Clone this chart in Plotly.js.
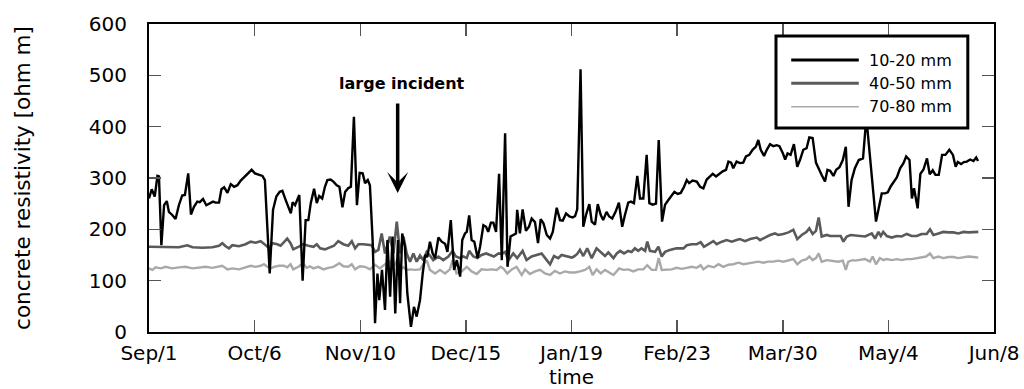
<!DOCTYPE html>
<html>
<head>
<meta charset="utf-8">
<script src="https://cdn.plot.ly/plotly-3.0.1.min.js"></script>
<style>html,body{margin:0;padding:0;background:#fff}#chart{width:1024px;height:389px}</style>
</head>
<body>
<div id="chart"></div>
<script>
// ---- data (day offsets since Sep 1, values in ohm m) ----
const seriesNames = ['10-20 mm', '40-50 mm', '70-80 mm'];
const tickDays = [0, 35, 70, 105, 140, 175, 210, 245, 280];
const tickLabels = ['Sep/1', 'Oct/6', 'Nov/10', 'Dec/15', 'Jan/19', 'Feb/23', 'Mar/30', 'May/4', 'Jun/8'];
const yTicks = [0, 100, 200, 300, 400, 500, 600];

const shallowDays = [
  0,0.9,1.9,2.8,3.3,4.1,5.0,5.9,6.6,7.7,8.8,9.9,11.0,11.9,13.0,13.9,14.9,16.0,16.8,17.9,19.0,20.1,21.2,22.1,23.2,24.0,24.9,26.0,27.1,28.2,29.3,30.4,32.0,33.1,34.0,35.1,36.4,37.6,38.4,39.2,40.0,41.1,42.2,43.3,44.2,45.3,46.4,47.0,
  47.6,48.4,49.1,49.8,50.9,51.9,52.8,53.6,54.7,55.6,56.4,57.4,58.3,59.1,60.2,61.1,62.2,63.1,64.1,65.0,66.0,66.9,67.9,68.9,69.8,70.8,71.6,72.5,73.2,74.1,74.9,75.7,76.3,77.2,78.2,79.0,79.9,80.7,81.6,82.5,83.2,83.9,84.8,85.6,86.8,87.8,88.7,89.8,90.7,91.5,92.2,
  93.1,94.0,94.8,95.9,97.0,98.1,98.9,100.0,101.1,102.0,103.1,103.8,104.7,105.3,106.1,106.9,107.8,108.9,109.7,110.8,111.7,112.4,113.3,114.1,115.0,116.0,116.9,118.0,118.8,119.8,120.7,121.6,122.0,122.9,123.8,124.9,125.9,126.8,127.9,128.9,129.8,130.7,131.8,132.9,133.8,135.1,136.2,137.1,138.2,139.3,
  140.4,141.2,141.9,143.0,143.9,144.8,145.9,146.7,147.8,148.7,149.7,150.5,151.6,152.5,153.5,154.6,155.7,156.8,157.7,158.8,159.7,160.7,161.8,162.7,163.8,164.9,165.8,166.9,168.0,168.9,170.0,171.0,172.1,173.0,174.1,175.2,176.2,177.3,178.2,179.0,180.1,181.5,182.6,183.7,184.8,
  185.9,186.8,187.9,189.0,190.1,191.2,192.0,192.9,193.6,194.7,195.8,196.9,197.8,198.9,200.0,201.1,201.9,202.7,203.8,204.7,205.8,206.9,208.0,208.9,210.0,210.8,211.6,212.6,213.7,214.8,215.7,216.8,217.9,218.8,219.9,221.0,222.0,222.9,224.0,224.8,225.7,226.8,227.7,228.8,229.9,230.9,231.8,232.8,
  233.9,235.2,236.6,237.7,240.9,241.9,242.8,243.9,244.8,245.8,246.7,247.8,248.9,250.0,250.9,252.0,252.8,253.5,254.7,255.6,256.6,257.8,258.7,259.7,260.6,261.7,262.8,263.9,265.2,266.4,267.3,268.0,269.1,270.0,271.0,272.1,273.2,274.1,274.7
];
const shallowVals = [
  260,278,264,304,303,169,247,255,234,228,220,247,266,267,309,229,244,254,253,259,247,251,254,252,252,278,282,271,288,283,286,295,305,312,316,309,307,304,296,205,114,238,264,273,275,257,241,231,
  253,247,257,267,100,218,218,251,279,251,265,260,283,296,297,293,286,283,243,273,280,283,419,247,310,309,290,296,286,179,17,114,62,121,43,179,69,186,36,179,56,192,166,75,10,49,30,62,114,150,146,
  176,153,144,184,176,172,156,218,121,140,108,179,192,195,227,179,176,144,166,208,205,195,213,213,195,308,140,387,127,186,189,192,238,192,239,197,205,221,214,173,220,212,189,182,195,242,218,217,231,225,
  223,226,239,512,205,228,249,215,209,249,228,218,234,225,221,234,252,205,228,252,254,251,304,260,260,345,251,248,250,374,215,248,257,265,273,269,271,283,296,290,295,293,283,280,297,
  303,308,303,309,313,316,332,330,319,332,329,330,342,345,355,361,374,355,343,355,366,362,364,362,349,336,348,345,366,322,335,355,358,379,378,330,319,306,293,316,314,304,316,321,335,361,244,296,
  319,335,338,418,215,244,270,270,272,284,292,301,319,329,342,335,260,280,241,308,316,338,307,315,306,306,345,345,355,345,322,331,327,331,332,336,333,340,333
];

const middleDays = [
  0,4.4,6.6,9.9,12.7,14.4,17.7,21.0,23.2,24.3,25.4,26.5,27.6,29.8,32.0,33.7,35.3,37.0,38.7,39.8,40.9,42.5,43.6,44.7,45.8,46.9,
  47.8,49.5,51.1,52.8,54.5,55.6,56.7,58.3,59.8,61.3,62.7,64.4,66.0,67.2,68.3,69.4,71.0,72.7,73.8,74.9,76.0,77.1,78.2,79.8,81.0,82.1,83.2,84.3,85.4,86.5,87.6,88.7,89.8,90.9,92.0,93.1,
  94.2,95.9,97.5,99.2,100.6,101.7,103.0,104.2,105.3,106.1,107.5,108.8,110.2,111.7,113.0,114.3,115.8,116.9,118.0,119.1,120.7,122.0,123.8,125.1,126.8,128.5,130.1,131.8,132.9,134.2,135.6,136.7,138.4,140.1,
  140.8,141.9,142.8,143.9,145.2,146.7,148.3,149.7,151.1,152.2,153.9,155.0,156.1,157.4,158.8,159.9,161.0,162.1,163.2,164.4,165.1,166.0,167.7,168.8,169.9,171.0,172.6,174.8,177.1,178.2,179.8,181.5,182.8,183.9,185.3,187.0,
  188.1,189.8,191.4,193.1,194.7,195.8,197.5,199.2,201.4,202.5,204.1,205.8,207.4,208.5,210.2,211.9,213.5,214.8,216.3,217.9,218.8,219.9,221.0,221.9,222.9,224.6,225.7,227.3,229.2,230.1,231.2,232.5,
  233.9,235.6,237.3,239.5,240.6,241.7,242.5,243.3,244.5,246.1,247.8,249.4,251.1,252.7,254.4,256.0,257.7,258.8,259.9,261.6,263.2,264.9,266.5,268.2,269.9,271.5,273.2,274.8
];
const middleVals = [
  166,166,165,165,169,165,164,165,168,173,167,163,169,167,171,176,174,177,169,163,173,171,168,176,182,173,
  161,166,171,168,166,171,163,161,165,168,177,171,168,177,163,171,171,169,169,156,160,192,153,186,153,215,153,186,153,137,153,137,149,140,156,149,
  140,147,140,147,158,147,144,147,144,158,147,144,150,153,150,147,153,152,156,140,153,144,158,140,147,150,153,140,132,148,144,150,147,145,
  147,152,160,148,163,144,163,156,148,155,144,153,158,153,158,156,163,158,163,158,176,158,156,166,147,156,160,163,163,169,171,171,175,166,171,177,
  171,176,179,176,179,181,177,181,184,179,184,189,192,189,191,194,199,181,189,195,202,191,197,223,186,189,187,187,187,176,186,189,
  188,186,186,192,182,195,187,195,187,184,187,186,191,187,187,191,191,200,189,192,195,194,194,192,195,194,195,195
];

const deepDays = [
  0,1.1,2.2,3.9,5.5,7.7,9.9,12.1,14.4,16.6,18.8,21.0,23.2,24.3,26.0,27.6,29.8,32.0,33.7,35.3,37.0,38.1,39.2,40.3,41.4,43.1,44.7,45.8,46.9,
  47.8,49.5,51.1,52.2,53.3,54.5,56.1,57.8,59.4,61.1,63.1,64.4,66.0,67.2,68.3,69.9,71.6,73.2,74.9,76.5,78.2,79.9,81.0,82.1,83.2,84.3,85.4,86.7,88.1,89.8,90.9,92.0,93.1,
  94.8,96.4,98.1,99.7,100.6,101.9,103.6,105.3,106.9,108.6,110.2,111.9,113.5,115.2,116.5,117.4,118.7,120.2,121.8,123.5,124.6,126.2,127.9,129.6,131.2,132.9,134.5,136.2,137.8,139.5,
  141.2,142.8,144.5,145.9,147.0,148.3,149.7,151.1,152.5,153.9,155.8,157.2,158.8,160.5,162.1,163.8,165.1,166.6,168.0,168.9,169.9,171.5,173.2,174.8,176.5,178.2,179.8,181.5,182.8,183.7,185.3,
  187.2,188.7,190.3,192.0,193.6,195.3,197.0,198.6,200.3,201.9,203.6,205.2,206.9,208.5,210.2,211.9,213.5,214.8,216.3,217.9,218.8,219.9,221.0,221.9,222.9,224.6,226.2,228.4,229.9,230.9,231.7,233.2,
  234.0,235.6,237.3,238.9,239.8,240.9,242.2,243.3,244.4,246.1,247.8,249.4,251.1,252.7,254.4,256.0,257.5,258.8,259.9,261.6,263.2,264.9,266.5,268.2,269.9,271.5,273.2,274.8
];
const deepVals = [
  124,121,126,124,127,124,126,127,124,126,127,125,127,129,122,124,122,126,129,127,129,132,127,124,127,129,129,126,132,
  122,127,134,125,128,124,127,122,125,127,134,128,127,132,122,128,127,122,131,124,132,137,127,139,121,126,121,122,121,122,132,140,121,
  114,121,114,122,140,114,118,127,118,113,122,121,122,121,127,124,114,122,127,111,122,113,118,121,114,111,119,114,118,116,
  116,118,121,127,111,122,114,121,116,111,124,121,122,118,122,122,130,121,121,144,121,122,122,125,123,125,127,125,130,122,129,
  126,132,127,131,132,135,132,134,135,137,135,137,137,139,137,140,142,132,139,142,147,140,144,153,137,140,139,137,139,121,137,140,
  139,140,142,137,147,132,144,140,142,140,142,140,142,142,144,146,147,153,144,147,144,146,146,144,146,147,146,145
];

const incidentText = 'large incident';
const incidentDay = 82.4;      // arrow tip date offset
const incidentTip = 271;       // arrow tip value
const incidentTail = 448;      // arrow tail value
const incidentLabelDay = 83.8;
const incidentLabelVal = 485;

// ---- helpers ----
const startMs = Date.UTC(2001, 8, 1);
const toMs = d => startMs + d * 86400000;

const FONT = 'DejaVu Sans, Verdana, sans-serif';
const colors = ['#000000', '#5a5a5a', '#a9a9a9'];
const widths = [2.4, 2.6, 2.4];
const legendWidths = [3, 3, 1.5];

const seriesDays = [shallowDays, middleDays, deepDays];
const seriesVals = [shallowVals, middleVals, deepVals];

const traces = seriesNames.map((name, i) => ({
  type: 'scatter', mode: 'lines', name: name,
  x: seriesDays[i].map(toMs), y: seriesVals[i],
  line: {color: colors[i], width: widths[i]},
  hoverinfo: 'skip', showlegend: false
})).reverse();

// custom legend (paper coords relative to plot area)
const lgX0 = 0.742, lgX1 = 0.969, lgY0 = 0.662, lgY1 = 0.961;
const rowY = [0.883, 0.808, 0.731];
const shapes = [{
  type: 'rect', xref: 'paper', yref: 'paper', x0: lgX0, x1: lgX1, y0: lgY0, y1: lgY1,
  fillcolor: '#ffffff', line: {color: '#000', width: 3}, layer: 'above'
}];
const annotations = [];
seriesNames.forEach((name, i) => {
  shapes.push({type: 'line', xref: 'paper', yref: 'paper', x0: 0.760, x1: 0.840, y0: rowY[i], y1: rowY[i],
    line: {color: colors[i], width: legendWidths[i]}, layer: 'above'});
  annotations.push({xref: 'paper', yref: 'paper', x: 0.850, y: rowY[i], xanchor: 'left', yanchor: 'middle',
    text: name, showarrow: false, font: {family: FONT, size: 16, color: '#000'}});
});

annotations.push({
  x: toMs(incidentLabelDay), y: incidentLabelVal, xref: 'x', yref: 'y', text: incidentText,
  showarrow: false, font: {family: FONT, size: 16, color: '#000', weight: 'bold'}
});
annotations.push({
  x: toMs(incidentDay), y: incidentTip, xref: 'x', yref: 'y',
  ax: toMs(incidentDay), ay: incidentTail, axref: 'x', ayref: 'y',
  text: '', showarrow: true, arrowhead: 3, arrowsize: 1, arrowwidth: 3.5, arrowcolor: '#000', standoff: 0
});

const layout = {
  width: 1024, height: 389,
  margin: {l: 149, r: 30, t: 24, b: 57, pad: 0},
  paper_bgcolor: '#ffffff', plot_bgcolor: '#ffffff',
  showlegend: false,
  font: {family: FONT, size: 20, color: '#000'},
  xaxis: {
    type: 'date', range: [toMs(0), toMs(280)],
    tickmode: 'array', tickvals: tickDays.map(toMs), ticktext: tickLabels,
    ticks: 'inside', ticklen: 12, tickwidth: 1.5, tickcolor: '#555',
    showline: true, linewidth: 2, linecolor: '#000', mirror: 'ticks',
    showgrid: false, zeroline: false, ticklabelstandoff: 2,
    tickfont: {family: FONT, size: 20, color: '#000'},
    title: {text: 'time', font: {family: FONT, size: 20, color: '#000'}, standoff: 14}
  },
  yaxis: {
    range: [0, 600], tickmode: 'array', tickvals: yTicks,
    ticks: 'inside', ticklen: 12, tickwidth: 1.5, tickcolor: '#555',
    showline: true, linewidth: 2, linecolor: '#000', mirror: 'ticks',
    showgrid: false, zeroline: false, ticklabelstandoff: 16,
    tickfont: {family: FONT, size: 20, color: '#000'},
    title: {text: 'concrete resistivity [ohm m]', font: {family: FONT, size: 21.5, color: '#000'}, standoff: 52}
  },
  shapes: shapes,
  annotations: annotations
};

Plotly.newPlot('chart', traces, layout, {displayModeBar: false, staticPlot: true});
</script>
</body>
</html>
